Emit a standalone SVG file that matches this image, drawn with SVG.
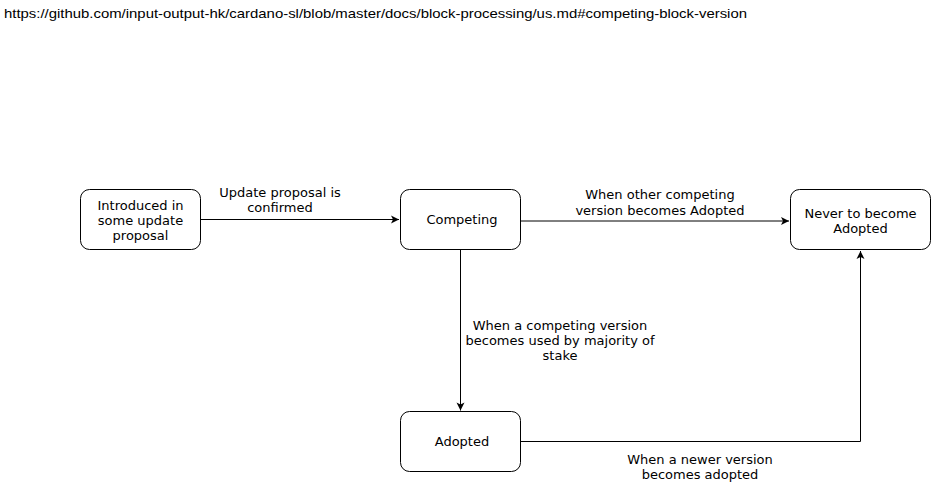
<svg xmlns="http://www.w3.org/2000/svg" width="931" height="492" viewBox="0 0 931 492">
<style>
.node rect{fill:#fff;stroke:#000;stroke-width:1}
.t{font-family:"DejaVu Sans",sans-serif;font-size:13px;fill:#000;text-anchor:middle}
.edge{fill:none;stroke:#000;stroke-width:1}
.hdr{font-family:"Liberation Sans",Arial,sans-serif;font-size:13px;fill:#000}
</style>
<defs>
<marker id="arr" viewBox="0 0 10 10" refX="9" refY="5" markerWidth="10" markerHeight="10" markerUnits="userSpaceOnUse" orient="auto">
<path d="M1,1 L9,5 L1,9 L3,5 Z" fill="#000"/>
</marker>
</defs>
<rect width="931" height="492" fill="#fff"/>
<text class="hdr" x="4" y="18" textLength="743" lengthAdjust="spacingAndGlyphs">https://github.com/input-output-hk/cardano-sl/blob/master/docs/block-processing/us.md#competing-block-version</text>
<g id="connectors">
<path class="edge" d="M200.5,219.5 L399,219.5" marker-end="url(#arr)"/>
<path class="edge" d="M520.5,221 L789,221" marker-end="url(#arr)"/>
<path class="edge" d="M460.5,249.5 L460.5,410.5" marker-end="url(#arr)"/>
<path class="edge" d="M520.5,441.5 L860.5,441.5 L860.5,251" marker-end="url(#arr)"/>
<text class="t" x="280" y="197">Update proposal is</text>
<text class="t" x="280" y="212">confirmed</text>
<text class="t" x="660" y="199">When other competing</text>
<text class="t" x="660" y="215">version becomes Adopted</text>
<text class="t" x="560" y="330">When a competing version</text>
<text class="t" x="560" y="345">becomes used by majority of</text>
<text class="t" x="560" y="360">stake</text>
<text class="t" x="700" y="464">When a newer version</text>
<text class="t" x="700" y="479">becomes adopted</text>
</g>
<g id="introduced" class="node">
<rect x="80.5" y="189.5" width="120" height="60" rx="9"/>
<text class="t" x="140.5" y="210">Introduced in</text>
<text class="t" x="140.5" y="225">some update</text>
<text class="t" x="140.5" y="240">proposal</text>
</g>
<g id="competing" class="node">
<rect x="400.5" y="189.5" width="120" height="60" rx="9"/>
<text class="t" x="462" y="224">Competing</text>
</g>
<g id="never" class="node">
<rect x="790.5" y="189.5" width="140" height="60" rx="9"/>
<text class="t" x="860.5" y="218">Never to become</text>
<text class="t" x="860.5" y="233">Adopted</text>
</g>
<g id="adopted" class="node">
<rect x="400.5" y="411.5" width="120" height="60" rx="9"/>
<text class="t" x="462" y="446">Adopted</text>
</g>
</svg>
